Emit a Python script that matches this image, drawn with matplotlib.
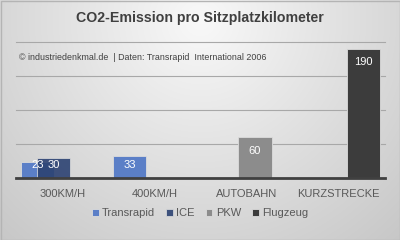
import numpy as np
import matplotlib
matplotlib.use("Agg")
import matplotlib.pyplot as plt
from matplotlib.patches import Rectangle

plt.rcParams['font.family'] = ['Liberation Sans', 'DejaVu Sans']

# data
categories = ["300KM/H", "400KM/H", "AUTOBAHN", "KURZSTRECKE"]
series_names = ["Transrapid", "ICE", "PKW", "Flugzeug"]
transrapid = [23, 33, np.nan, np.nan]
ice = [30, np.nan, np.nan, np.nan]
pkw = [np.nan, np.nan, 60, np.nan]
flugzeug = [np.nan, np.nan, np.nan, 190]
series_values = [transrapid, ice, pkw, flugzeug]
colors = ["#5b7fc7", "#2c4272", "#8c8c8c", "#3c3c3c"]
alphas = [1.0, 0.9, 1.0, 1.0]

title = "CO2-Emission pro Sitzplatzkilometer"
source = "\u00a9 industriedenkmal.de  | Daten: Transrapid  International 2006"

fig = plt.figure(figsize=(4, 2.4), dpi=100)

# background gradient (light at top centre, darker at the edges)
bg = fig.add_axes([0, 0, 1, 1], zorder=-10)
yy, xx = np.mgrid[0:240, 0:400]
d = np.sqrt(((xx - 200) / 260.0) ** 2 + ((yy - 20) / 260.0) ** 2)
shade = np.clip(0.975 - 0.17 * d, 0.78, 0.98)
bg.imshow(np.dstack([shade] * 3), aspect='auto', extent=[0, 400, 240, 0])
bg.set_xlim(0, 400)
bg.set_ylim(240, 0)
bg.axis('off')
bg.add_patch(Rectangle((0.5, 0.5), 399, 239, fill=False, edgecolor="#b4b4b4", lw=1))

ax = fig.add_axes([16 / 400, 62 / 240, 369 / 400, 136 / 240])
ax.patch.set_alpha(0)

x = np.arange(len(categories))
offsets = [-0.27, -0.09, 0.09, 0.27]
width = 0.36
for vals, off, col, a, name in zip(series_values, offsets, colors, alphas, series_names):
    ax.bar(x + off, vals, width, color=col, alpha=a, edgecolor="#dcdcdc",
           linewidth=0.6, label=name, zorder=2)
    for xi, v in zip(x, vals):
        if np.isnan(v):
            continue
        ax.text(xi + off, max(v - 20, 19), f"{v:g}", ha='center', va='center',
                color='white', fontsize=8, zorder=4)

ax.set_xlim(-0.5, 3.5)
ax.set_ylim(0, 200)
ax.set_yticks([0, 50, 100, 150, 200])
ax.yaxis.grid(True, color="#a8a8a8", lw=0.8, zorder=1)
for gl in ax.get_ygridlines():
    gl.set_clip_on(False)
ax.set_axisbelow(True)
ax.tick_params(axis='y', left=False, labelleft=False)
ax.tick_params(axis='x', length=0, pad=8, labelsize=8, labelcolor="#595959")
ax.set_xticks(x)
ax.set_xticklabels(categories)
for s in ['top', 'right', 'left']:
    ax.spines[s].set_visible(False)
ax.spines['bottom'].set_color("#404040")
ax.spines['bottom'].set_linewidth(2)
ax.spines['bottom'].set_zorder(5)

fig.text(0.5, 1 - 18 / 240, title, ha='center', va='center', fontsize=10.2,
         fontweight='bold', color="#404040")
fig.text(19 / 400, 1 - 58 / 240, source, ha='left', va='center', fontsize=6.4,
         color="#404040")

handles, labels = ax.get_legend_handles_labels()
leg = fig.legend(handles, labels, loc='center', bbox_to_anchor=(0.5, 1 - 213 / 240),
                 ncol=4, frameon=False, fontsize=8, handlelength=0.6,
                 handleheight=0.6, handletextpad=0.3, columnspacing=1.0)
for t in leg.get_texts():
    t.set_color("#595959")

fig.savefig("out.png", dpi=100)
